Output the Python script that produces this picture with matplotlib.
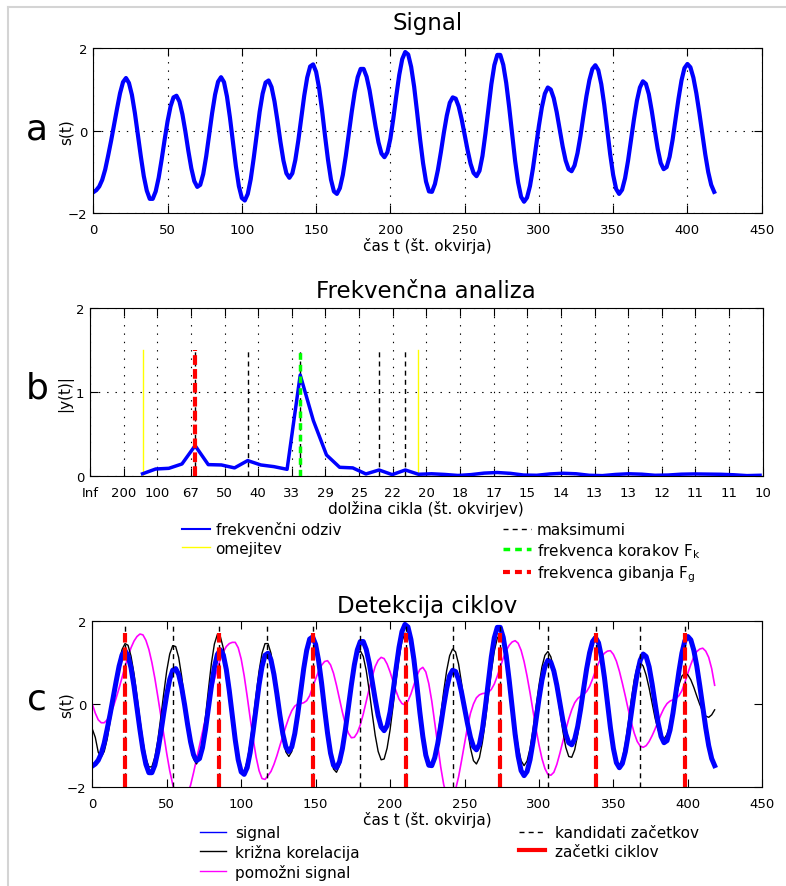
import numpy as np
import matplotlib
matplotlib.use("Agg")
import matplotlib.pyplot as plt
from matplotlib.lines import Line2D

# ---- data ----
# signals sampled every 2 frames, t = 0, 2, ..., 418
frame_step = 2
signal = [
    -1.49, -1.44, -1.35, -1.19, -0.94, -0.60, -0.24, 0.15, 0.54, 0.91,
    1.18, 1.28, 1.16, 0.87, 0.43, -0.09, -0.62, -1.10, -1.45, -1.65,
    -1.65, -1.47, -1.14, -0.70, -0.22, 0.23, 0.59, 0.81, 0.85, 0.71,
    0.40, -0.02, -0.49, -0.91, -1.22, -1.36, -1.31, -1.05, -0.62, -0.10,
    0.43, 0.88, 1.19, 1.30, 1.18, 0.83, 0.32, -0.28, -0.86, -1.34,
    -1.63, -1.69, -1.53, -1.17, -0.66, -0.09, 0.46, 0.90, 1.17, 1.22,
    1.06, 0.71, 0.24, -0.27, -0.72, -1.03, -1.14, -1.03, -0.71, -0.24,
    0.31, 0.85, 1.29, 1.56, 1.61, 1.43, 1.04, 0.50, -0.12, -0.70,
    -1.18, -1.47, -1.53, -1.39, -1.07, -0.61, -0.08, 0.46, 0.94, 1.30,
    1.50, 1.50, 1.31, 0.98, 0.55, 0.11, -0.28, -0.55, -0.64, -0.52,
    -0.19, 0.30, 0.85, 1.36, 1.74, 1.91, 1.85, 1.55, 1.07, 0.45,
    -0.20, -0.78, -1.23, -1.47, -1.48, -1.29, -0.95, -0.52, -0.05, 0.37,
    0.68, 0.81, 0.78, 0.59, 0.28, -0.09, -0.47, -0.80, -1.02, -1.10,
    -0.97, -0.61, -0.07, 0.54, 1.13, 1.59, 1.84, 1.84, 1.60, 1.16,
    0.57, -0.09, -0.73, -1.25, -1.60, -1.72, -1.62, -1.34, -0.91, -0.40,
    0.12, 0.57, 0.90, 1.05, 1.00, 0.79, 0.45, 0.04, -0.38, -0.72,
    -0.93, -0.98, -0.84, -0.54, -0.12, 0.37, 0.84, 1.23, 1.50, 1.59,
    1.47, 1.13, 0.63, 0.03, -0.57, -1.07, -1.41, -1.53, -1.43, -1.15,
    -0.73, -0.23, 0.28, 0.73, 1.05, 1.20, 1.14, 0.89, 0.48, 0.01,
    -0.44, -0.78, -0.93, -0.88, -0.63, -0.22, 0.28, 0.78, 1.22, 1.52,
    1.62, 1.54, 1.29, 0.91, 0.44, -0.07, -0.57, -1.00, -1.31, -1.48,
]
cross_corr = [
    -0.60, -0.80, -1.16, -1.27, -1.14, -0.84, -0.41, 0.08, 0.57, 1.00,
    1.31, 1.45, 1.41, 1.15, 0.73, 0.19, -0.38, -0.90, -1.30, -1.51,
    -1.51, -1.28, -0.87, -0.32, 0.26, 0.80, 1.20, 1.40, 1.38, 1.12,
    0.67, 0.11, -0.47, -0.98, -1.32, -1.44, -1.30, -0.90, -0.31, 0.35,
    0.98, 1.44, 1.67, 1.62, 1.34, 0.87, 0.27, -0.36, -0.93, -1.37,
    -1.61, -1.61, -1.38, -0.95, -0.38, 0.22, 0.79, 1.22, 1.45, 1.45,
    1.22, 0.79, 0.24, -0.33, -0.82, -1.15, -1.26, -1.14, -0.80, -0.32,
    0.25, 0.80, 1.27, 1.56, 1.64, 1.47, 1.08, 0.53, -0.11, -0.73,
    -1.24, -1.56, -1.64, -1.48, -1.14, -0.65, -0.09, 0.45, 0.90, 1.19,
    1.28, 1.14, 0.80, 0.32, -0.23, -0.75, -1.14, -1.34, -1.32, -1.06,
    -0.62, -0.05, 0.56, 1.10, 1.51, 1.70, 1.67, 1.40, 0.93, 0.34,
    -0.29, -0.86, -1.29, -1.50, -1.48, -1.24, -0.81, -0.27, 0.30, 0.80,
    1.16, 1.32, 1.25, 0.96, 0.50, -0.05, -0.60, -1.06, -1.36, -1.44,
    -1.29, -0.92, -0.41, 0.20, 0.78, 1.27, 1.58, 1.68, 1.54, 1.18,
    0.67, 0.07, -0.53, -1.03, -1.36, -1.48, -1.37, -1.07, -0.61, -0.08,
    0.45, 0.89, 1.17, 1.26, 1.13, 0.82, 0.37, -0.15, -0.64, -1.04,
    -1.26, -1.28, -1.10, -0.74, -0.26, 0.29, 0.82, 1.26, 1.56, 1.66,
    1.54, 1.19, 0.67, 0.04, -0.57, -1.07, -1.39, -1.48, -1.32, -0.95,
    -0.45, 0.10, 0.58, 0.90, 1.00, 0.91, 0.69, 0.38, 0.02, -0.34,
    -0.62, -0.80, -0.84, -0.73, -0.49, -0.18, 0.16, 0.46, 0.67, 0.74,
    0.70, 0.58, 0.40, 0.19, -0.01, -0.18, -0.29, -0.32, -0.26, -0.14,
]
helper = [
    0.00, -0.22, -0.38, -0.45, -0.45, -0.38, -0.25, -0.08, 0.14, 0.38,
    0.64, 0.90, 1.14, 1.35, 1.51, 1.62, 1.68, 1.66, 1.53, 1.31,
    1.00, 0.62, 0.18, -0.28, -0.75, -1.19, -1.60, -1.93, -2.19, -2.35,
    -2.40, -2.32, -2.15, -1.95, -1.65, -1.33, -1.00, -0.67, -0.33, 0.00,
    0.31, 0.59, 0.85, 1.07, 1.25, 1.38, 1.45, 1.48, 1.48, 1.35,
    1.08, 0.68, 0.19, -0.33, -0.83, -1.27, -1.60, -1.79, -1.81, -1.72,
    -1.62, -1.45, -1.24, -1.00, -0.77, -0.54, -0.33, -0.16, -0.05, 0.00,
    0.01, 0.03, 0.08, 0.20, 0.40, 0.60, 0.79, 0.93, 1.02, 1.04,
    0.94, 0.74, 0.45, 0.13, -0.20, -0.49, -0.70, -0.81, -0.80, -0.69,
    -0.50, -0.24, 0.07, 0.37, 0.66, 0.90, 1.05, 1.12, 1.09, 0.96,
    0.77, 0.54, 0.31, 0.12, 0.01, -0.02, 0.07, 0.24, 0.46, 0.68,
    0.83, 0.88, 0.77, 0.49, 0.07, -0.45, -0.99, -1.51, -1.93, -2.21,
    -2.30, -2.25, -2.05, -1.75, -1.36, -0.95, -0.55, -0.22, 0.00, 0.15,
    0.22, 0.25, 0.26, 0.28, 0.35, 0.48, 0.67, 0.88, 1.10, 1.28,
    1.41, 1.49, 1.52, 1.46, 1.29, 1.02, 0.67, 0.27, -0.17, -0.60,
    -0.98, -1.31, -1.55, -1.69, -1.71, -1.64, -1.45, -1.19, -0.90, -0.62,
    -0.36, -0.14, 0.03, 0.13, 0.19, 0.23, 0.30, 0.42, 0.60, 0.80,
    0.98, 1.13, 1.22, 1.27, 1.28, 1.19, 1.03, 0.79, 0.50, 0.19,
    -0.14, -0.44, -0.70, -0.90, -1.01, -1.04, -1.00, -0.90, -0.76, -0.60,
    -0.42, -0.25, -0.10, 0.01, 0.07, 0.10, 0.13, 0.20, 0.32, 0.52,
    0.74, 0.95, 1.13, 1.26, 1.32, 1.34, 1.27, 1.12, 0.85, 0.45,
]

# frequency response, FFT bins 4..51 (nfft 512, axis in units of 400/512)
freq_bins = np.arange(4, 52)
bin_scale = 400 / 512.
freq_amp = [
    0.030, 0.087, 0.095, 0.147, 0.365, 0.139, 0.135, 0.100, 0.187, 0.135,
    0.115, 0.083, 1.206, 0.663, 0.254, 0.107, 0.100, 0.028, 0.075, 0.020,
    0.075, 0.024, 0.030, 0.022, 0.010, 0.020, 0.038, 0.045, 0.035, 0.015,
    0.012, 0.028, 0.036, 0.030, 0.012, 0.008, 0.022, 0.030, 0.025, 0.012,
    0.015, 0.025, 0.028, 0.026, 0.024, 0.018, 0.008, 0.012,
]
limit_bins = [4, 25]
maxima_bins = [8, 12, 16, 22, 24]
step_bin = 16
motion_bin = 8
cycle_labels = ['Inf', '200', '100', '67', '50', '40', '33', '29', '25', '22',
                '20', '18', '17', '15', '14', '13', '13', '12', '11', '11', '10']

candidates = [22, 54, 85, 117, 148, 180, 211, 242, 274, 306, 338, 368, 398]
cycle_starts = [22, 85, 148, 211, 274, 338, 398]

# ---- style ----
plt.rcParams.update({
    'font.family': ['DejaVu Sans'],
    'xtick.direction': 'in', 'ytick.direction': 'in',
    'xtick.top': True, 'ytick.right': True,
    'xtick.major.size': 6, 'ytick.major.size': 6,
    'xtick.major.pad': 7, 'ytick.major.pad': 4,
    'xtick.labelsize': 9.5, 'ytick.labelsize': 9.5,
    'axes.labelsize': 11,
    'lines.scale_dashes': False,
    'lines.solid_joinstyle': 'round',
})

W, H = 786, 887
fig = plt.figure(figsize=(W / 100., H / 100.), dpi=100)
t = np.arange(0, 420, frame_step)
grid_kw = dict(color='k', linestyle=(0, (1, 5)), linewidth=0.8)


def fig_box(left, top, right, bottom):
    return [left / W, 1 - bottom / H, (right - left) / W, (bottom - top) / H]


# a: signal
ax1 = fig.add_axes(fig_box(93.3, 49.3, 761.7, 214.3))
ax1.plot(t, signal, color='#0000ff', lw=3)
ax1.set_xlim(0, 450)
ax1.set_ylim(-2, 2)
ax1.set_xticks(range(0, 451, 50))
ax1.set_yticks([-2, 0, 2])
ax1.grid(True, **grid_kw)
ax1.set_title('Signal', fontsize=16.5, pad=14)
ax1.set_xlabel('čas t (št. okvirja)', labelpad=1)
ax1.set_ylabel('s(t)')
ax1.yaxis.set_label_coords(-0.03, 0.5)

# b: frequency analysis
ax2 = fig.add_axes(fig_box(90, 309.3, 762.7, 477.3))
fx = freq_bins * bin_scale
ax2.plot(fx, freq_amp, color='#0000ff', lw=2.5, zorder=3)
for b in limit_bins:
    ax2.plot([b * bin_scale] * 2, [0, 1.5], color='#ffff00', lw=1)
for b in maxima_bins:
    ax2.plot([b * bin_scale] * 2, [0, 1.5], color='k', lw=1, dashes=(3.6, 3))
ax2.plot([step_bin * bin_scale] * 2, [0, 1.5], color='#00ff00', lw=2.5,
         dashes=(4.8, 3.6), zorder=4)
ax2.plot([motion_bin * bin_scale] * 2, [0, 1.5], color='#ff0000', lw=3,
         dashes=(7, 3), zorder=4)
ax2.set_xlim(0, 40)
ax2.set_ylim(0, 2)
ax2.set_xticks(range(0, 41, 2))
ax2.set_xticklabels(cycle_labels)
ax2.set_yticks([0, 1, 2])
ax2.grid(True, **grid_kw)
ax2.set_title('Frekvenčna analiza', fontsize=16.5, pad=8)
ax2.set_xlabel('dolžina cikla (št. okvirjev)', labelpad=1)
ax2.set_ylabel('|y(t)|')
ax2.yaxis.set_label_coords(-0.025, 0.5)

h2 = [Line2D([], [], color='#0000ff', lw=1.5),
      Line2D([], [], color='#ffff00', lw=1),
      Line2D([], [], color='none'),
      Line2D([], [], color='k', lw=1, dashes=(3.6, 3)),
      Line2D([], [], color='#00ff00', lw=2.5, dashes=(4.8, 3.6)),
      Line2D([], [], color='#ff0000', lw=3, dashes=(5, 3.6))]
l2 = ['frekvenčni odziv', 'omejitev', ' ', 'maksimumi',
      r'frekvenca korakov F$_\mathregular{k}$',
      r'frekvenca gibanja F$_\mathregular{g}$']
fig.legend(h2, l2, loc='upper left', bbox_to_anchor=(182 / W, 1 - 523 / H),
           ncol=2, frameon=False, fontsize=11, handlelength=1.8,
           handletextpad=0.4, columnspacing=10.6, labelspacing=0.25,
           borderpad=0, borderaxespad=0)

# c: cycle detection
ax3 = fig.add_axes(fig_box(92.3, 621.7, 762.3, 788.3))
ax3.plot(t, helper, color='#ff00ff', lw=1.2)
ax3.plot(t, cross_corr, color='k', lw=1)
ax3.plot(t, signal, color='#0000ff', lw=3.6)
for c in candidates:
    ax3.plot([c, c], [-2, 1.92], color='k', lw=1, dashes=(3.6, 3))
for c in cycle_starts:
    ax3.plot([c, c], [-2, 1.7], color='#ff0000', lw=3, dashes=(9.5, 3.5))
ax3.set_xlim(0, 450)
ax3.set_ylim(-2, 2)
ax3.set_xticks(range(0, 451, 50))
ax3.set_yticks([-2, 0, 2])
ax3.set_title('Detekcija ciklov', fontsize=16.5, pad=6.5)
ax3.set_xlabel('čas t (št. okvirja)', labelpad=1)
ax3.set_ylabel('s(t)')
ax3.yaxis.set_label_coords(-0.028, 0.5)

h3 = [Line2D([], [], color='#0000ff', lw=1),
      Line2D([], [], color='k', lw=1),
      Line2D([], [], color='#ff00ff', lw=1),
      Line2D([], [], color='k', lw=1, dashes=(3.6, 3)),
      Line2D([], [], color='#ff0000', lw=3)]
l3 = ['signal', 'križna korelacija', 'pomožni signal',
      'kandidati začetkov', 'začetki ciklov']
fig.legend(h3, l3, loc='upper left', bbox_to_anchor=(200 / W, 1 - 826 / H),
           ncol=2, frameon=False, fontsize=11, handlelength=1.7,
           handletextpad=0.6, columnspacing=10.45, labelspacing=0.25,
           borderpad=0, borderaxespad=0)

# panel letters
for letter, yc in [('a', 130), ('b', 389), ('c', 699)]:
    fig.text(37 / W, 1 - yc / H, letter, fontsize=26, ha='center', va='center')

# light frame at top/left edge
fig.add_artist(Line2D([8 / W, 8 / W], [0, 1 - 8 / H], transform=fig.transFigure,
                      color='#d4d4d4', lw=1.5))
fig.add_artist(Line2D([8 / W, 1], [1 - 8 / H, 1 - 8 / H], transform=fig.transFigure,
                      color='#d4d4d4', lw=1.5))

fig.savefig('out.png', dpi=100, facecolor='white')
